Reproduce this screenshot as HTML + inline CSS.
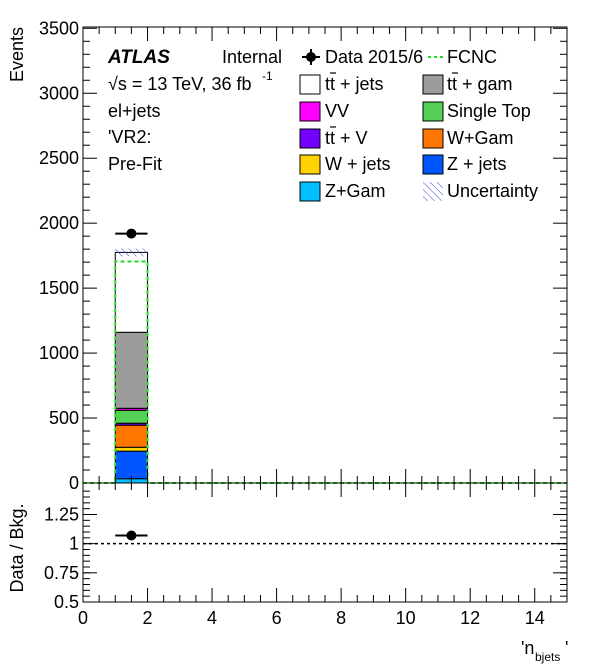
<!DOCTYPE html>
<html><head><meta charset="utf-8"><style>
body{margin:0;background:#fff}
svg{display:block;font-family:"Liberation Sans",Arial,sans-serif}
</style></head><body>
<svg id="c" width="596" height="672" viewBox="0 0 596 672">
<defs><pattern id="hatch" width="5" height="5" patternUnits="userSpaceOnUse" patternTransform="rotate(-45)"><line x1="0" y1="0" x2="0" y2="5" stroke="#3344ee" stroke-width="1"/></pattern></defs>
<g id="main"></g>
</svg>
<script>
const binEdges=[1,2];
const samples=["Z+Gam","Z + jets","W + jets","W+Gam","tt + V","Single Top","VV","tt + gam","tt + jets"];
const colors=["#00bfff","#0055ff","#ffd200","#ff7500","#7300ff","#55d155","#ff00ff","#9c9c9c","#ffffff"];
const values=[33,212,30,170,15,100,15,585,615];
const fcnc=[1705];
const dataVals=[1920];
const ratioVals=[1.07];
const uncert=[30];
const yTicks=[0,500,1000,1500,2000,2500,3000,3500];
const rTicks=[0.5,0.75,1,1.25];
const rTickLabels=["0.5","0.75","1","1.25"];
const xTicks=[0,2,4,6,8,10,12,14];

const NS="http://www.w3.org/2000/svg";
const g=document.getElementById('main');
const L=83,R=567,T=27,MB=483,RB=602;
const FS=18;
const X=v=>L+(v-0)/15*(R-L);
const Y=v=>MB-v/3510*(MB-T);
const RY=v=>RB-(v-0.5)/(1.52-0.5)*(RB-MB);
function el(t,a,txt){const e=document.createElementNS(NS,t);for(const k in a)e.setAttribute(k,a[k]);if(txt!==undefined)e.textContent=txt;g.appendChild(e);return e;}

let cum=0;
samples.forEach((s,i)=>{
  const y0=Y(cum),y1=Y(cum+values[i]);cum+=values[i];
  const r=el('rect',{x:X(binEdges[0]),y:y1,width:X(binEdges[1])-X(binEdges[0]),height:y0-y1,fill:colors[i],stroke:'#000','stroke-width':1});
  
  
});
const u=el('rect',{x:X(binEdges[0]),y:Y(cum+uncert[0]),width:X(binEdges[1])-X(binEdges[0]),height:Y(cum-uncert[0])-Y(cum+uncert[0]),fill:'url(#hatch)'});


const f=el('path',{d:`M${L},${MB} H${X(binEdges[0])} V${Y(fcnc[0])} H${X(binEdges[1])} V${MB} H${R}`,fill:'none',stroke:'#22dd22','stroke-width':2,'stroke-dasharray':'4,3'});


const xc=(binEdges[0]+binEdges[1])/2;
el('line',{x1:X(binEdges[0]),x2:X(binEdges[1]),y1:Y(dataVals[0]),y2:Y(dataVals[0]),stroke:'#000','stroke-width':2});
const dp=el('circle',{cx:X(xc),cy:Y(dataVals[0]),r:5,fill:'#000'});


el('line',{x1:L,x2:R,y1:RY(1),y2:RY(1),stroke:'#000','stroke-width':1.5,'stroke-dasharray':'3,3'});
el('line',{x1:X(binEdges[0]),x2:X(binEdges[1]),y1:RY(ratioVals[0]),y2:RY(ratioVals[0]),stroke:'#000','stroke-width':2});
const rp=el('circle',{cx:X(xc),cy:RY(ratioVals[0]),r:5,fill:'#000'});


el('rect',{x:L,y:T,width:R-L,height:MB-T,fill:'none',stroke:'#000','stroke-width':1});
el('rect',{x:L,y:MB,width:R-L,height:RB-MB,fill:'none',stroke:'#000','stroke-width':1});
yTicks.forEach(v=>{el('line',{x1:L,x2:L+14,y1:Y(v),y2:Y(v),stroke:'#000'});el('line',{x1:R,x2:R-14,y1:Y(v),y2:Y(v),stroke:'#000'});
 const t=el('text',{x:L-4,y:Y(v)+6,'text-anchor':'end','font-size':FS},String(v));});
for(let v=100;v<3510;v+=100){if(v%500)
 {el('line',{x1:L,x2:L+7,y1:Y(v),y2:Y(v),stroke:'#000'});el('line',{x1:R,x2:R-7,y1:Y(v),y2:Y(v),stroke:'#000'});}}
rTicks.forEach((v,i)=>{el('line',{x1:L,x2:L+14,y1:RY(v),y2:RY(v),stroke:'#000'});el('line',{x1:R,x2:R-14,y1:RY(v),y2:RY(v),stroke:'#000'});
 const t=el('text',{x:L-4,y:RY(v)+6,'text-anchor':'end','font-size':FS},rTickLabels[i]);});
for(let v=0.55;v<1.5;v+=0.05){el('line',{x1:L,x2:L+7,y1:RY(v),y2:RY(v),stroke:'#000'});el('line',{x1:R,x2:R-7,y1:RY(v),y2:RY(v),stroke:'#000'});}
for(let v=0;v<=15;v+=0.5){const big=v%2===0;const h=big?14:7;
 [[MB,-1],[RB,-1],[T,1],[MB,1]].forEach(([yy,d])=>el('line',{x1:X(v),x2:X(v),y1:yy,y2:yy+d*h,stroke:'#000'}));}
xTicks.forEach(v=>{const t=el('text',{x:X(v),y:624,'text-anchor':'middle','font-size':FS},String(v));});
let t=el('text',{x:0,y:0,'text-anchor':'end','font-size':FS,transform:'translate(23,27) rotate(-90)'},'Events');
t=el('text',{x:0,y:0,'text-anchor':'middle','font-size':FS,transform:'translate(23,548) rotate(-90)'},'Data / Bkg.');
t=el('text',{x:521,y:654,'font-size':FS},"'n");
el('text',{x:535,y:661,'font-size':12},"bjets");el('text',{x:565,y:654,'font-size':FS},"'");
t=el('text',{x:108,y:63,'font-size':19,'font-weight':'bold','font-style':'italic'},'ATLAS');
el('text',{x:222,y:63,'font-size':FS},'Internal');
el('text',{x:108,y:90,'font-size':FS},'√s = 13 TeV, 36 fb');el('text',{x:262,y:80,'font-size':12},'-1');
el('text',{x:108,y:117,'font-size':FS},'el+jets');
el('text',{x:108,y:143,'font-size':FS},"'VR2:");
el('text',{x:108,y:170,'font-size':FS},'Pre-Fit');
const legL=["tt + jets","VV","tt + V","W + jets","Z+Gam"],legLc=["#ffffff","#ff00ff","#7300ff","#ffd200","#00bfff"];
const legR=["tt +  gam","Single Top","W+Gam","Z + jets"],legRc=["#9c9c9c","#55d155","#ff7500","#0055ff"];
const rows=[84,111,138,164,191];
el('line',{x1:302,x2:320,y1:57,y2:57,stroke:'#000','stroke-width':2});el('line',{x1:311,x2:311,y1:49,y2:65,stroke:'#000','stroke-width':2});
el('circle',{cx:311,cy:57,r:5,fill:'#000'});
t=el('text',{x:325,y:63,'font-size':FS},'Data 2015/6');
el('line',{x1:428,x2:445,y1:57,y2:57,stroke:'#22dd22','stroke-width':2,'stroke-dasharray':'3,3'});
t=el('text',{x:447,y:63,'font-size':FS},'FCNC');
legL.forEach((s,i)=>{el('rect',{x:300,y:rows[i]-9,width:20,height:19,fill:legLc[i],stroke:'#000'});t=el('text',{x:325,y:rows[i]+6,'font-size':FS},s);});
legR.forEach((s,i)=>{el('rect',{x:423,y:rows[i]-9,width:20,height:19,fill:legRc[i],stroke:'#000'});t=el('text',{x:447,y:rows[i]+6,'font-size':FS},s);});
el('rect',{x:423,y:rows[4]-9,width:20,height:19,fill:'url(#hatch)'});
t=el('text',{x:447,y:rows[4]+6,'font-size':FS},'Uncertainty');
[[330,rows[0]],[330,rows[2]],[452,rows[0]]].forEach(([x,y])=>el('line',{x1:x,x2:x+6,y1:y-11,y2:y-11,stroke:'#000','stroke-width':1.2}));
</script>
</body></html>
